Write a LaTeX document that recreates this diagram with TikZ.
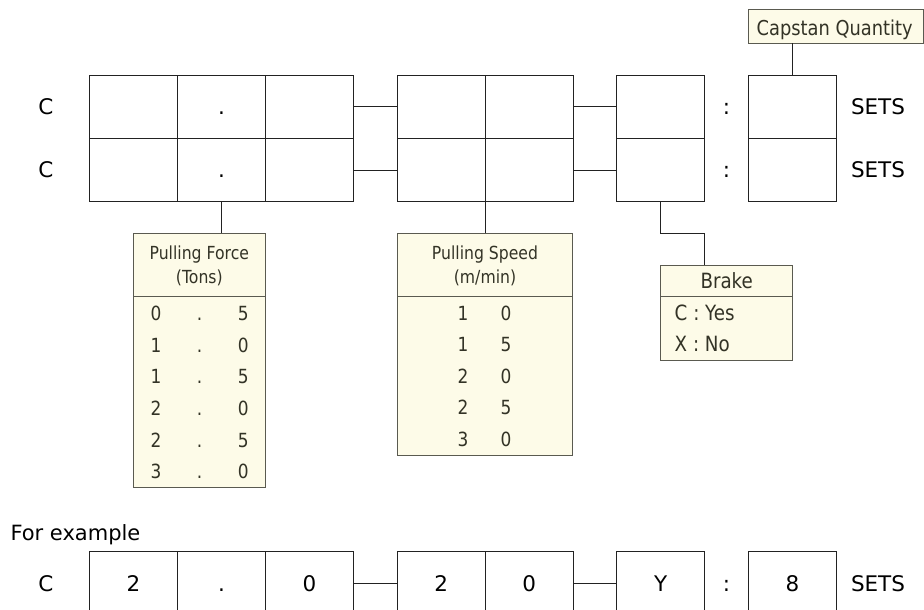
\documentclass[tikz,border=0pt]{standalone}
\usepackage{fontspec}
\setmainfont{DejaVu Sans}
\newfontfamily\condfont[FakeStretch=0.87]{DejaVu Sans}
\definecolor{yfill}{HTML}{FDFBE8}
\definecolor{yline}{HTML}{5A5A50}
\definecolor{ytext}{HTML}{333326}
\definecolor{mline}{HTML}{222222}
\tikzset{
  cell/.style={draw=mline, line width=1pt, minimum width=88pt, minimum height=63.3pt,
    inner sep=0pt, outer sep=0pt, text height=15.6pt, text depth=0pt, font=\fontsize{21.5}{24}\selectfont},
  lbl/.style={inner sep=0pt, outer sep=0pt, text height=15.6pt, text depth=0pt, font=\fontsize{21.5}{24}\selectfont},
  ybox/.style={draw=yline, fill=yfill, line width=1pt, inner sep=0pt, outer sep=0pt, anchor=north west},
  ytxt/.style={inner sep=0pt, anchor=base, text=ytext, font=\condfont\fontsize{18}{20}\selectfont},
  ydig/.style={inner sep=0pt, anchor=base, text=ytext, font=\condfont\fontsize{19.5}{22}\selectfont},
  ytxtl/.style={inner sep=0pt, anchor=base west, text=ytext, font=\condfont\fontsize{21}{24}\selectfont},
  ytxtb/.style={inner sep=0pt, anchor=base, text=ytext, font=\condfont\fontsize{21}{24}\selectfont},
  conn/.style={draw=mline, line width=1pt}
}
\begin{document}
\begin{tikzpicture}[x=1pt,y=-1pt]
\useasboundingbox (0,0) rectangle (924,610);
\clip (0,0) rectangle (924,610);
% main two rows
\foreach \r/\y in {1/106.8, 2/170.1} {
  \node[cell] (a1r\r) at (133.5,\y) {};
  \node[cell] (a2r\r) at (221.5,\y) {.};
  \node[cell] (a3r\r) at (309.5,\y) {};
  \node[cell] (b1r\r) at (441.2,\y) {};
  \node[cell] (b2r\r) at (529.2,\y) {};
  \node[cell] (cr\r) at (660.8,\y) {};
  \node[cell] (dr\r) at (792.5,\y) {};
  \node[lbl] (cl\r) at (46,\y) {C};
  \node[lbl] (col\r) at (726.5,\y) {:};
  \node[lbl] (sets\r) at (878,\y) {SETS};
  \draw[conn] (a3r\r.east) -- (b1r\r.west);
  \draw[conn] (b2r\r.east) -- (cr\r.west);
}
% Capstan quantity
\node[ybox, minimum width=175.5pt, minimum height=34pt] (cq) at (748.3,9.5) {};
\node[inner sep=0pt, anchor=base west, text=ytext, font=\condfont\fontsize{20.5}{24}\selectfont] (cqt) at (756.5,36) {Capstan Quantity};
\draw[conn] (dr1.north) -- (dr1.north |- cq.south);
% Pulling force
\node[ybox, minimum width=132pt, minimum height=254.4pt] (pf) at (133.3,233.3) {};
\draw[yline, line width=1pt] (pf.west |- 0,296.7) -- (pf.east |- 0,296.7);
\node[ytxt] (pfh1) at (199.3,259.5) {Pulling Force};
\node[ytxt] (pfh2) at (199.3,283.5) {(Tons)};
\foreach \i/\a/\b [count=\k from 0] in {0/0/5, 1/1/0, 2/1/5, 3/2/0, 4/2/5, 5/3/0} {
  \node[ydig] (pfa\k) at (156,320.3+31.7*\i) {\a};
  \node[ydig] (pfd\k) at (199.5,320.3+31.7*\i) {.};
  \node[ydig] (pfb\k) at (243.3,320.3+31.7*\i) {\b};
}
\draw[conn] (a2r2.south) -- (a2r2.south |- pf.north);
% Pulling speed
\node[ybox, minimum width=175.4pt, minimum height=222.4pt] (ps) at (397.3,233.3) {};
\draw[yline, line width=1pt] (ps.west |- 0,296.7) -- (ps.east |- 0,296.7);
\node[ytxt] (psh1) at (485,259.5) {Pulling Speed};
\node[ytxt] (psh2) at (485,283.5) {(m/min)};
\foreach \i/\a/\b [count=\k from 0] in {0/1/0, 1/1/5, 2/2/0, 3/2/5, 4/3/0} {
  \node[ydig] (psa\k) at (463,320.3+31.5*\i) {\a};
  \node[ydig] (psb\k) at (506,320.3+31.5*\i) {\b};
}
\draw[conn] (b1r2.south east) -- (b1r2.south east |- ps.north);
% Brake
\node[ybox, minimum width=131.6pt, minimum height=95pt] (bk) at (660.7,265) {};
\draw[yline, line width=1pt] (bk.west |- 0,296.7) -- (bk.east |- 0,296.7);
\node[ytxtb] (bkh) at (726.7,288.4) {Brake};
\node[ytxtl] (bky) at (674.5,320.4) {C : Yes};
\node[ytxtl] (bkn) at (674.5,351.7) {X : No};
\coordinate (bkin) at ([xshift=44pt]bk.north west);
\coordinate (bkbend) at (bkin |- 0,233.3);
\draw[conn] (cr2.south) |- (bkbend) -- (bkin);
% Example
\node[lbl, anchor=base west, text height=, text depth=, font=\fontsize{21}{24}\selectfont] (fe) at (10.5,540) {For example};
\node[cell] (ea1) at (133.5,583.3) {2};
\node[cell] (ea2) at (221.5,583.3) {.};
\node[cell] (ea3) at (309.5,583.3) {0};
\node[cell] (eb1) at (441.2,583.3) {2};
\node[cell] (eb2) at (529.2,583.3) {0};
\node[cell] (ec) at (660.8,583.3) {Y};
\node[cell] (ed) at (792.5,583.3) {8};
\node[lbl] (ecl) at (46,583.3) {C};
\node[lbl] (ecol) at (726.5,583.3) {:};
\node[lbl] (esets) at (878,583.3) {SETS};
\draw[conn] (ea3.east) -- (eb1.west);
\draw[conn] (eb2.east) -- (ec.west);
\end{tikzpicture}
\end{document}
